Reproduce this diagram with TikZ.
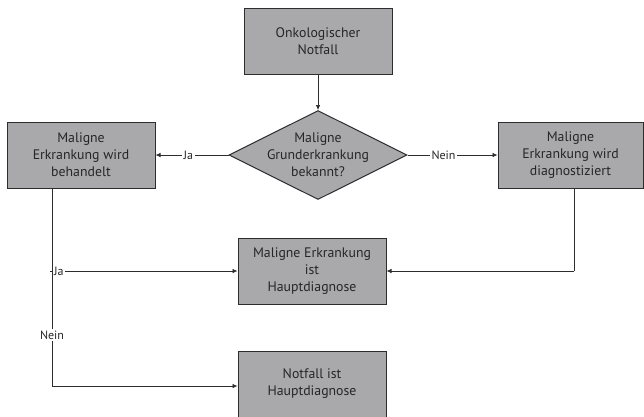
\documentclass[tikz,border=0pt]{standalone}
\usepackage{fontspec}
\setmainfont{PT Sans}
\usetikzlibrary{shapes.geometric,arrows.meta}
\definecolor{boxfill}{RGB}{169,169,172}
\definecolor{boxline}{RGB}{45,45,45}
\tikzset{
  txt/.style={align=center, font=\fontsize{13.8}{17}\selectfont, text=black!85},
  box/.style={txt, draw=boxline, line width=1pt, fill=boxfill, minimum width=148pt, minimum height=66pt, inner sep=2pt},
  dec/.style={draw=boxline, line width=1pt, fill=boxfill, diamond, aspect=2, minimum width=178pt, minimum height=89pt, inner sep=0pt},
  conn/.style={draw=boxline, line width=0.7pt},
  arr/.style={conn, -{Latex[length=5pt,width=4.5pt]}},
  lbl/.style={fill=white, font=\fontsize{12}{14}\selectfont, inner sep=1.5pt, text=black!85}
}
\begin{document}
\begin{tikzpicture}[x=1pt,y=-1pt]
\useasboundingbox (0,0) rectangle (644,416);
\node[box] (top) at (318,41) {Onkologischer\\Notfall};
\node[dec] (dia) at (318,155) {};
\node[txt] (diat) at (dia.center) {Maligne\\Grunderkrankung\\bekannt?};
\node[box] (left) at (81,155) {Maligne\\Erkrankung wird\\behandelt};
\node[box, minimum width=145pt] (right) at (570.5,155) {Maligne\\Erkrankung wird\\diagnostiziert};
\node[box] (mid) at (312,271) {Maligne Erkrankung\\ist\\Hauptdiagnose};
\node[box] (bot) at (312,384) {Notfall ist\\Hauptdiagnose};
\coordinate (lb) at (52,188);
\coordinate (lc) at (52,386);
\coordinate (lj) at (52,271);
\coordinate (rb) at (574,188);
\coordinate (rc) at (574,271);
\draw[arr] (top) -- (dia);
\draw[arr] (dia.west) -- node[lbl, pos=0.55]{Ja} (left.east);
\draw[arr] (dia.east) -- node[lbl, pos=0.4]{Nein} (right.west);
\draw[conn] (lb) -- (lc);
\draw[arr] (lj) -- (lj -| mid.west);
\node[lbl, anchor=west, inner sep=1pt, xshift=1pt] (ja2) at (lj) {Ja};
\draw[conn] (50,271) -- (lj);
\draw[arr] (lc) -- (lc -| bot.west);
\node[lbl] (nein2) at (52,335) {Nein};
\draw[conn] (rb) -- (rc);
\draw[arr] (rc) -- (rc -| mid.east);
\end{tikzpicture}
\end{document}
